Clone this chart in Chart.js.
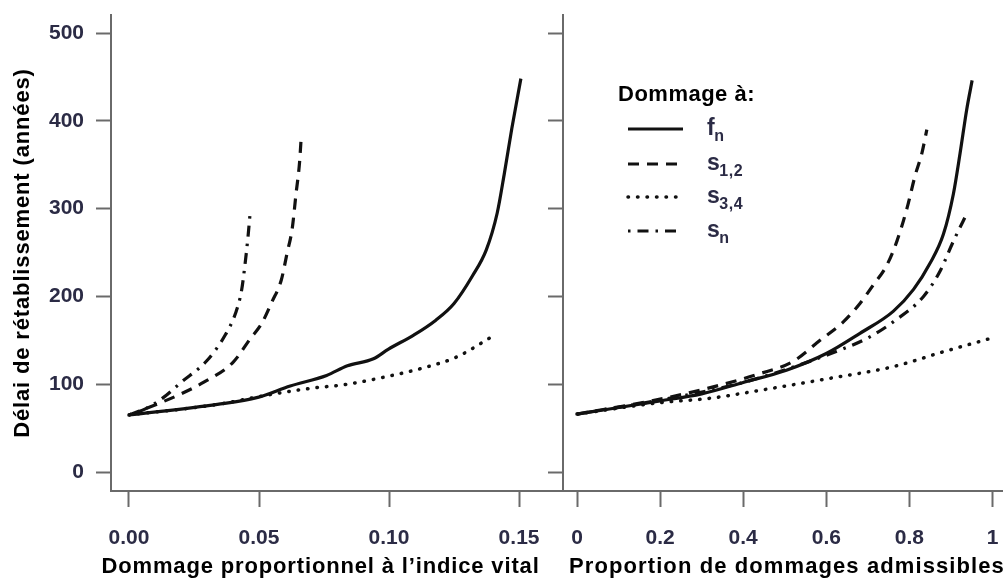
<!DOCTYPE html>
<html>
<head>
<meta charset="utf-8">
<script src="https://cdn.jsdelivr.net/npm/chart.js@4.4.0/dist/chart.umd.min.js"></script>
<style>
  html, body { margin: 0; padding: 0; background: #fff; overflow: hidden; }
  #wrap { position: relative; width: 1003px; height: 578px; }
  #leftBox { position: absolute; left: 0; top: 0; width: 563px; height: 578px; }
  #rightBox { position: absolute; left: 540px; top: 0; width: 463px; height: 578px; }
</style>
</head>
<body>
<div id="wrap">
  <div id="leftBox"><canvas id="leftChart"></canvas></div>
  <div id="rightBox"><canvas id="rightChart"></canvas></div>
</div>
<script>
// Ticks
const yTicks = [0, 100, 200, 300, 400, 500]
const yTickLabels = ["0", "100", "200", "300", "400", "500"]
const leftTicks = [0, 0.05, 0.10, 0.15]
const leftTickLabels = ["0.00", "0.05", "0.10", "0.15"]
const rightTicks = [0, 0.2, 0.4, 0.6, 0.8, 1]
const rightTickLabels = ["0", "0.2", "0.4", "0.6", "0.8", "1"]

// Left panel: dommage proportionnel a l'indice vital -> delai (annees)
const fnLeft = [[0, 65], [0.034, 77], [0.0495, 85], [0.062, 98], [0.076, 110], [0.084, 121], [0.094, 129],
  [0.0998, 140], [0.1095, 156], [0.118, 173], [0.125, 192], [0.132, 223], [0.1374, 253], [0.1416, 295],
  [0.1444, 341], [0.1472, 391], [0.1507, 448]]
const s12Left = [[0, 65], [0.0105, 77], [0.020, 89], [0.0286, 102], [0.040, 125], [0.0467, 152], [0.051, 169],
  [0.055, 194], [0.0586, 219], [0.0607, 248], [0.0628, 278], [0.0642, 316], [0.0656, 353], [0.0663, 385]]
const s34Left = [[0, 65], [0.034, 77], [0.052, 87], [0.069, 95], [0.084, 100], [0.098, 108], [0.1137, 119],
  [0.126, 131], [0.1395, 154]]
const snLeft = [[0, 65], [0.0063, 72], [0.0133, 85], [0.020, 102], [0.030, 127], [0.037, 156], [0.041, 181],
  [0.0433, 207], [0.0446, 236], [0.0458, 269], [0.0467, 299]]

// Right panel: proportion de dommages admissibles -> delai (annees)
const fnRight = [[0, 66], [0.2, 81], [0.3, 89], [0.4, 102], [0.504, 116], [0.6, 135], [0.681, 158], [0.761, 183],
  [0.81, 208], [0.85, 238], [0.882, 271], [0.906, 317], [0.922, 363], [0.938, 413], [0.951, 446]]
const s12Right = [[0, 66], [0.2, 83], [0.328, 97], [0.44, 112], [0.52, 126], [0.585, 150], [0.641, 171],
  [0.681, 192], [0.713, 213], [0.745, 235], [0.77, 263], [0.794, 300], [0.814, 338], [0.83, 363], [0.842, 390]]
const s34Right = [[0, 66], [0.2, 79], [0.32, 84], [0.44, 93], [0.6, 106], [0.761, 120], [0.882, 137], [0.994, 152]]
const snRight = [[0, 66], [0.2, 82], [0.4, 102], [0.6, 133], [0.705, 154], [0.761, 171], [0.834, 200],
  [0.874, 229], [0.906, 263], [0.94, 296]]

const legendTitle = "Dommage à:"
const legendMain = ["f", "s", "s", "s"]
const legendSub = ["n", "1,2", "3,4", "n"]

const FONT = '"Liberation Sans", Arial, sans-serif'
const AXIS_GRAY = "#6a6a6a"
const TICK_TEXT = "#2b2b45"
const Y_MIN = -21.6, Y_MAX = 520.5

const lineStyles = [
  { borderDash: [], borderCapStyle: "butt", borderWidth: 3.2 },
  { borderDash: [11, 8], borderCapStyle: "butt", borderWidth: 3.2 },
  { borderDash: [0.5, 9], borderCapStyle: "round", borderWidth: 3.5 },
  { borderDash: [2.5, 7, 11, 7], borderCapStyle: "butt", borderWidth: 3.2 },
]

function makeDatasets(series) {
  return series.map((pts, i) => ({
    data: pts.map(([x, y]) => ({ x, y })),
    showLine: true,
    borderColor: "#111",
    pointRadius: 0,
    cubicInterpolationMode: "monotone",
    ...lineStyles[i],
  }))
}

// no extra label padding: the plot box is placed by hand
function noPadding(s) {
  s.paddingTop = 0; s.paddingBottom = 0; s.paddingLeft = 0; s.paddingRight = 0
}

function yScale(withLabels) {
  return {
    type: "linear", min: Y_MIN, max: Y_MAX,
    afterBuildTicks: (s) => { s.ticks = yTicks.map((v) => ({ value: v })) },
    afterFit: (s) => { s.width = withLabels ? 111 : 23; noPadding(s) },
    ticks: {
      callback: (v, i) => (withLabels ? yTickLabels[i] : ""),
      color: TICK_TEXT, padding: 12,
      font: { family: FONT, size: 21, weight: "bold" },
    },
    grid: { drawOnChartArea: false, tickLength: 15, tickColor: AXIS_GRAY, tickWidth: 2 },
    border: { color: AXIS_GRAY, width: 2 },
  }
}

function xScale(min, max, ticks, labels) {
  return {
    type: "linear", min, max,
    afterBuildTicks: (s) => { s.ticks = ticks.map((v) => ({ value: v })) },
    afterFit: (s) => { s.height = 87; noPadding(s) },
    ticks: {
      callback: (v, i) => labels[i],
      color: TICK_TEXT, padding: 19, maxRotation: 0, autoSkip: false,
      font: { family: FONT, size: 21, weight: "bold" },
    },
    grid: { drawOnChartArea: false, tickLength: 16, tickColor: AXIS_GRAY, tickWidth: 2 },
    border: { color: AXIS_GRAY, width: 2 },
  }
}

// axis titles drawn as text with a little letter spacing
const panelText = {
  id: "panelText",
  afterDraw(chart, args, opts) {
    const ctx = chart.ctx
    ctx.save()
    ctx.fillStyle = "#000"
    for (const t of opts.items || []) {
      ctx.save()
      ctx.font = `bold 22px ${FONT}`
      ctx.letterSpacing = t.spacing || "0.85px"
      ctx.translate(t.x, t.y)
      if (t.rotate) ctx.rotate(t.rotate)
      ctx.textAlign = t.align
      ctx.textBaseline = t.baseline
      ctx.fillText(t.text, 0, 0)
      ctx.restore()
    }
    ctx.restore()
  },
}

// legend with subscripts, inside the right panel
const subLegend = {
  id: "subLegend",
  afterDraw(chart, args, opts) {
    if (!opts.show) return
    const ctx = chart.ctx
    const ox = opts.x, rows = opts.rows
    ctx.save()
    ctx.fillStyle = "#000"
    ctx.font = `bold 22px ${FONT}`
    ctx.letterSpacing = "0.5px"
    ctx.textAlign = "left"
    ctx.textBaseline = "alphabetic"
    ctx.fillText(legendTitle, opts.titleX, opts.titleY)
    chart.data.datasets.forEach((ds, i) => {
      const y = rows[i]
      ctx.beginPath()
      ctx.strokeStyle = "#111"
      ctx.lineWidth = ds.borderWidth
      ctx.lineCap = ds.borderCapStyle
      ctx.setLineDash(ds.borderDash)
      ctx.moveTo(ox, y)
      ctx.lineTo(ox + 55, y)
      ctx.stroke()
      ctx.setLineDash([])
      ctx.fillStyle = TICK_TEXT
      ctx.font = `bold 23px ${FONT}`
      ctx.fillText(legendMain[i], ox + 79, y + 6)
      const w = ctx.measureText(legendMain[i]).width
      ctx.font = `bold 16px ${FONT}`
      ctx.fillText(legendSub[i], ox + 79 + w - 1, y + 12)
    })
    ctx.restore()
  },
}

function baseOptions(xs, ys, textItems, legendOpts) {
  return {
    responsive: true,
    maintainAspectRatio: false,
    animation: false,
    layout: { padding: { top: 15, left: 0, right: 0, bottom: 0 } },
    scales: { x: xs, y: ys },
    plugins: {
      legend: { display: false },
      tooltip: { enabled: false },
      panelText: { items: textItems },
      subLegend: legendOpts,
    },
  }
}

new Chart(document.getElementById("leftChart"), {
  type: "scatter",
  data: { datasets: makeDatasets([fnLeft, s12Left, s34Left, snLeft]) },
  options: baseOptions(
    xScale(-0.00692, 0.1669, leftTicks, leftTickLabels),
    yScale(true),
    [
      { text: "Délai de rétablissement (années)", x: 23, y: 253, rotate: -Math.PI / 2, align: "center", baseline: "middle" },
      { text: "Dommage proportionnel à l’indice vital", x: 101.5, y: 573, align: "left", baseline: "alphabetic" },
    ],
    { show: false }
  ),
  plugins: [panelText, subLegend],
})

new Chart(document.getElementById("rightChart"), {
  type: "scatter",
  data: { datasets: makeDatasets([fnRight, s12Right, s34Right, snRight]) },
  options: baseOptions(
    xScale(-0.0337, 1.0253, rightTicks, rightTickLabels),
    yScale(false),
    [
      { text: "Proportion de dommages admissibles", x: 29, y: 573, align: "left", baseline: "alphabetic", spacing: "1.1px" },
    ],
    { show: true, x: 88, rows: [129, 164, 197, 231], titleX: 78, titleY: 101 }
  ),
  plugins: [panelText, subLegend],
})
</script>
</body>
</html>
